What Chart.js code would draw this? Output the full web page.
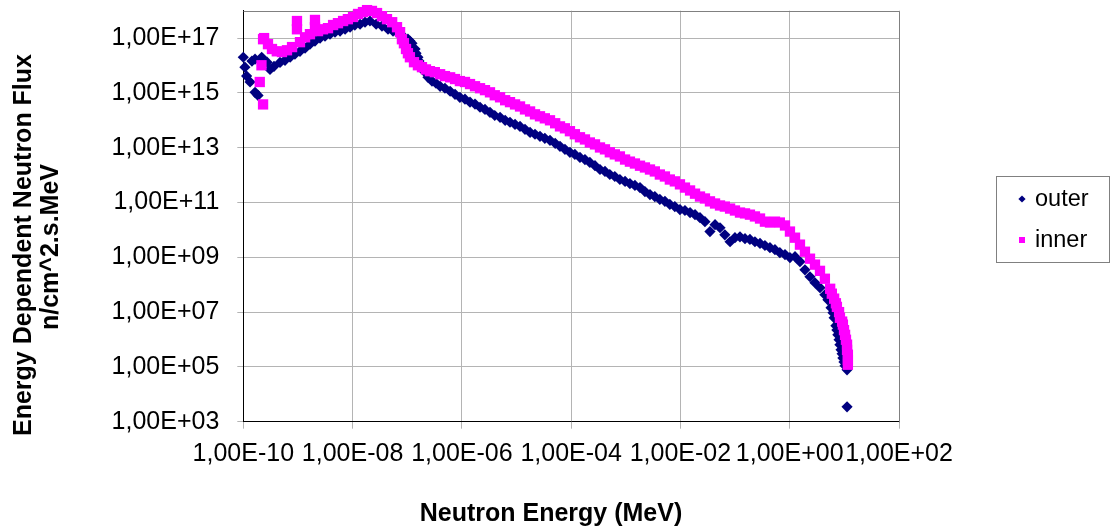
<!DOCTYPE html>
<html><head><meta charset="utf-8">
<script src="https://cdn.jsdelivr.net/npm/chart.js@4/dist/chart.umd.min.js"></script>
<style>html,body{margin:0;padding:0;background:#fff;overflow:hidden}#wrap{width:1111px;height:527px}</style>
</head><body><div id="wrap"><canvas id="c" width="1111" height="527"></canvas></div>
<script>
const outerEnergy = [1.0e-10,1.07e-10,1.15e-10,1.33e-10,1.64e-10,1.86e-10,1.44e-10,1.64e-10,2.17e-10,2.72e-10,3.08e-10,3.65e-10,4.7e-10,5.8e-10,7.2e-10,8.8e-10,1.09e-9,1.35e-9,1.66e-9,2.05e-9,2.54e-9,3.13e-9,3.86e-9,4.77e-9,5.9e-9,7.3e-9,9.0e-9,1.1e-8,1.37e-8,1.69e-8,2.08e-8,2.7e-8,3.45e-8,4.45e-8,5.5e-8,6.8e-8,8.4e-8,1.03e-7,1.12e-7,1.22e-7,1.39e-7,1.45e-7,1.57e-7,1.64e-7,1.79e-7,1.86e-7,2.03e-7,2.4e-7,2.84e-7,3.36e-7,4.0e-7,4.9e-7,6.1e-7,7.5e-7,9.2e-7,1.14e-6,1.41e-6,1.74e-6,2.15e-6,2.65e-6,3.27e-6,4.0e-6,5.0e-6,6.2e-6,7.6e-6,9.4e-6,1.16e-5,1.43e-5,1.77e-5,2.18e-5,2.69e-5,3.3e-5,4.1e-5,5.1e-5,6.25e-5,7.7e-5,9.5e-5,1.17e-4,1.45e-4,1.79e-4,2.2e-4,2.73e-4,3.37e-4,4.16e-4,5.1e-4,6.3e-4,7.8e-4,9.7e-4,1.19e-3,1.47e-3,1.82e-3,2.24e-3,2.77e-3,3.4e-3,4.2e-3,5.2e-3,6.4e-3,7.9e-3,9.8e-3,1.21e-2,1.5e-2,1.85e-2,2.28e-2,2.81e-2,3.47e-2,4.3e-2,5.3e-2,6.5e-2,8.1e-2,9.95e-2,0.123,0.152,0.187,0.231,0.286,0.352,0.435,0.537,0.66,0.82,1.01,1.25,1.54,1.9,2.35,2.9,3.58,4.4,5.0,5.7,6.2,6.5,7.0,7.3,7.6,8.0,8.3,8.7,9.1,9.4,9.85,10.3,11.2,11.2];
const outerFlux = [2.0e16,8.7e15,4.1e15,2.5e15,1.05e15,8.1e14,1.45e16,1.7e16,2.0e16,1.32e16,7.2e15,9.3e15,1.3e16,1.55e16,2.0e16,2.6e16,3.3e16,4.3e16,6.0e16,7.8e16,1.0e17,1.18e17,1.39e17,1.65e17,1.8e17,2.1e17,2.5e17,3.0e17,3.2e17,3.8e17,4.2e17,3.2e17,2.75e17,2.1e17,1.8e17,1.5e17,1.18e17,9.1e16,7.8e16,6.5e16,4.0e16,2.8e16,2.0e16,1.45e16,1.02e16,7.9e15,6.2e15,3.7e15,2.7e15,2.25e15,1.74e15,1.48e15,1.15e15,8.9e14,6.9e14,5.9e14,4.6e14,3.9e14,3.0e14,2.5e14,1.95e14,1.5e14,1.28e14,1.0e14,8.5e13,7.1e13,6.0e13,4.7e13,3.6e13,3.1e13,2.6e13,2.2e13,1.86e13,1.45e13,1.12e13,8.7e12,6.8e12,5.7e12,4.4e12,3.7e12,2.9e12,2.2e12,1.6e12,1.36e12,1.05e12,8.9e11,6.9e11,5.9e11,4.9e11,4.2e11,3.5e11,2.5e11,1.95e11,1.65e11,1.29e11,1.1e11,8.5e10,7.1e10,5.5e10,5.1e10,4.3e10,3.6e10,2.8e10,2.0e10,8.7e9,1.55e10,1.2e10,6.6e9,3.7e9,5.2e9,5.6e9,4.8e9,4.5e9,3.7e9,3.2e9,2.7e9,2.25e9,1.9e9,1.48e9,1.26e9,9.8e8,1.05e9,6.9e8,3.5e8,1.95e8,1.18e8,7.8e7,4.3e7,2.8e7,1.45e7,9.5e6,6.2e6,3.2e6,2.2e6,1.48e6,9.8e5,6.5e5,4.2e5,3.0e5,2.1e5,1.52e5,1.1e5,7.8e4,3.5e3];
const innerEnergy = [2.4e-10,2.3e-10,2.15e-10,2.0e-10,2.3e-10,2.83e-10,3.35e-10,4.1e-10,5.1e-10,6.3e-10,7.8e-10,9.6e-10,9.6e-10,1.09e-9,1.35e-9,1.66e-9,2.05e-9,2.05e-9,2.33e-9,2.87e-9,3.55e-9,4.4e-9,5.4e-9,6.7e-9,8.2e-9,1.02e-8,1.26e-8,1.55e-8,1.84e-8,2.26e-8,2.8e-8,3.45e-8,4.26e-8,5.3e-8,6.5e-8,7.4e-8,8.0e-8,8.7e-8,9.5e-8,1.03e-7,1.12e-7,1.33e-7,1.57e-7,1.86e-7,2.2e-7,2.6e-7,3.2e-7,4.0e-7,4.9e-7,6.1e-7,7.5e-7,9.2e-7,1.14e-6,1.41e-6,1.74e-6,2.15e-6,2.65e-6,3.27e-6,4.0e-6,5.0e-6,6.2e-6,7.6e-6,9.4e-6,1.16e-5,1.43e-5,1.77e-5,2.18e-5,2.69e-5,3.3e-5,4.1e-5,5.1e-5,6.25e-5,7.7e-5,9.5e-5,1.17e-4,1.45e-4,1.79e-4,2.2e-4,2.73e-4,3.37e-4,4.16e-4,5.1e-4,6.3e-4,7.8e-4,9.7e-4,1.19e-3,1.47e-3,1.82e-3,2.24e-3,2.77e-3,3.4e-3,4.2e-3,5.2e-3,6.4e-3,7.9e-3,9.8e-3,1.21e-2,1.5e-2,1.85e-2,2.28e-2,2.81e-2,3.47e-2,4.3e-2,5.3e-2,6.5e-2,8.1e-2,9.95e-2,0.123,0.152,0.187,0.231,0.286,0.352,0.435,0.537,0.66,0.82,1.01,1.25,1.54,1.9,2.35,2.9,3.58,4.4,5.5,5.9,6.5,7.0,7.3,8.0,8.3,9.1,9.4,9.85,10.3,10.7,11.2,11.2,11.6,11.6,11.6];
const innerFlux = [1.0e17,9.1e16,1.02e16,2.5e15,3.8e14,6.0e16,4.0e16,3.3e16,3.1e16,3.6e16,4.7e16,4.2e17,2.1e17,7.1e16,1.07e17,1.39e17,4.6e17,2.5e17,1.8e17,2.1e17,2.3e17,3.0e17,3.5e17,4.2e17,4.9e17,5.9e17,7.6e17,8.9e17,1.05e18,9.8e17,8.2e17,6.3e17,4.9e17,3.8e17,2.5e17,1.65e17,9.1e16,6.5e16,4.0e16,2.8e16,2.0e16,1.32e16,1.02e16,8.7e15,7.2e15,6.2e15,5.7e15,4.8e15,4.1e15,3.7e15,3.2e15,2.7e15,2.5e15,2.1e15,1.75e15,1.48e15,1.26e15,1.05e15,8.2e14,6.9e14,5.4e14,4.6e14,3.8e14,3.2e14,2.5e14,2.1e14,1.65e14,1.4e14,1.18e14,1.0e14,7.8e13,6.0e13,5.1e13,4.0e13,3.1e13,2.4e13,2.0e13,1.55e13,1.32e13,1.02e13,8.7e12,6.8e12,5.7e12,4.8e12,3.7e12,3.1e12,2.65e12,2.2e12,1.9e12,1.6e12,1.36e12,1.05e12,8.9e11,6.9e11,5.9e11,4.6e11,3.5e11,2.75e11,2.1e11,1.65e11,1.4e11,1.1e11,9.2e10,7.8e10,7.1e10,6.0e10,5.1e10,4.3e10,4.0e10,3.6e10,3.1e10,2.6e10,2.0e10,1.86e10,2.0e10,1.86e10,1.45e10,8.7e9,5.2e9,2.9e9,1.6e9,8.9e8,5.4e8,3.2e8,1.65e8,7.1e7,4.7e7,3.1e7,2.1e7,1.55e7,1.0e7,6.2e6,4.5e6,3.5e6,2.2e6,1.48e6,9.8e5,6.5e5,4.2e5,2.8e5,1.8e5,1.2e5];
const xTickValues = [1e-10,1e-8,1e-6,1e-4,1e-2,1e0,1e2];
const xTickLabels = ['1,00E-10','1,00E-08','1,00E-06','1,00E-04','1,00E-02','1,00E+00','1,00E+02'];
const yTickValues = [1e3,1e5,1e7,1e9,1e11,1e13,1e15,1e17];
const yTickLabels = ['1,00E+03','1,00E+05','1,00E+07','1,00E+09','1,00E+11','1,00E+13','1,00E+15','1,00E+17'];
const seriesNames = ['outer','inner'];
const seriesColors = ['#000080','#FF00FF'];

const FONT = '"Liberation Sans", Arial, sans-serif';
const toPts = (xs, ys) => xs.map((x, i) => ({x: x, y: ys[i]}));

const framePlugin = {
  id: 'frame',
  beforeDatasetsDraw(chart) {
    const {ctx, chartArea: a} = chart;
    ctx.save();
    ctx.strokeStyle = '#808080';
    ctx.lineWidth = 1;
    ctx.beginPath();
    ctx.moveTo(Math.round(a.left) + 0.5, Math.round(a.top) + 0.5);
    ctx.lineTo(Math.round(a.right) + 0.5, Math.round(a.top) + 0.5);
    ctx.lineTo(Math.round(a.right) + 0.5, Math.round(a.bottom) + 0.5);
    ctx.stroke();
    ctx.restore();
  },
  afterDraw(chart) {
    const ctx = chart.ctx;
    ctx.save();
    ctx.fillStyle = '#000';
    ctx.font = 'bold 25px ' + FONT;
    ctx.textAlign = 'center';
    ctx.textBaseline = 'middle';
    ctx.fillText('Neutron Energy (MeV)', 551, 514);
    ctx.save();
    ctx.translate(24, 245);
    ctx.rotate(-Math.PI / 2);
    ctx.fillText('Energy Dependent Neutron Flux', 0, 0);
    ctx.restore();
    ctx.save();
    ctx.translate(51, 247);
    ctx.rotate(-Math.PI / 2);
    ctx.fillText('n/cm^2.s.MeV', 0, 0);
    ctx.restore();
    ctx.strokeStyle = '#808080';
    ctx.lineWidth = 1;
    ctx.strokeRect(996.5, 176.5, 113, 86);
    const rows = [199, 240];
    chart.data.datasets.forEach((ds) => {
      const k = seriesNames.indexOf(ds.label);
      const y = rows[k];
      ctx.fillStyle = ds.backgroundColor;
      ctx.beginPath();
      if (ds.pointStyle === 'rectRot') {
        ctx.moveTo(1022, y - 3.6); ctx.lineTo(1025.6, y); ctx.lineTo(1022, y + 3.6); ctx.lineTo(1018.4, y);
        ctx.closePath();
      } else {
        ctx.rect(1019, y - 3, 6, 6);
      }
      ctx.fill();
      ctx.fillStyle = '#000';
      ctx.font = '23.5px ' + FONT;
      ctx.textAlign = 'left';
      ctx.textBaseline = 'middle';
      ctx.fillText(ds.label, 1035, y + 1);
    });
    ctx.restore();
  }
};

new Chart(document.getElementById('c'), {
  type: 'scatter',
  data: {
    datasets: [
      {label: seriesNames[0], data: toPts(outerEnergy, outerFlux), pointStyle: 'rectRot', pointRadius: 5.6, borderWidth: 0,
       backgroundColor: seriesColors[0], borderColor: seriesColors[0], order: 2, clip: false},
      {label: seriesNames[1], data: toPts(innerEnergy, innerFlux), pointStyle: 'rect', pointRadius: 7.3, borderWidth: 0,
       backgroundColor: seriesColors[1], borderColor: seriesColors[1], order: 1, clip: false}
    ]
  },
  options: {
    responsive: false,
    animation: false,
    devicePixelRatio: 1,
    layout: {padding: {left: 0, right: 212, top: 10.7, bottom: 0}},
    plugins: {legend: {display: false}, tooltip: {enabled: false}},
    scales: {
      x: {
        type: 'logarithmic', min: 1e-10, max: 1e2,
        afterBuildTicks: (s) => { s.ticks = xTickValues.map(v => ({value: v})); },
        afterFit: (s) => { s.height = 105.3; s.paddingLeft = 0; s.paddingRight = 0; s.paddingTop = 0; s.paddingBottom = 0; },
        ticks: {autoSkip: false, maxRotation: 0, minRotation: 0, padding: 10, color: '#000',
          font: {family: FONT, size: 25}, callback: (v, i) => xTickLabels[i]},
        grid: {color: '#b4b4b4', lineWidth: 1, tickLength: 7, drawTicks: true},
        border: {color: '#000', width: 1}
      },
      y: {
        type: 'logarithmic', min: 1e3, max: 1e18,
        afterBuildTicks: (s) => { s.ticks = yTickValues.map(v => ({value: v})); },
        afterFit: (s) => { s.width = 243.3; s.paddingTop = 0; s.paddingBottom = 0; s.paddingLeft = 0; s.paddingRight = 0; },
        ticks: {autoSkip: false, padding: 18, color: '#000',
          font: {family: FONT, size: 25}, callback: (v, i) => yTickLabels[i]},
        grid: {color: '#b4b4b4', lineWidth: 1, tickLength: 6, drawTicks: true},
        border: {color: '#000', width: 1}
      }
    }
  },
  plugins: [framePlugin]
});
</script></body></html>
